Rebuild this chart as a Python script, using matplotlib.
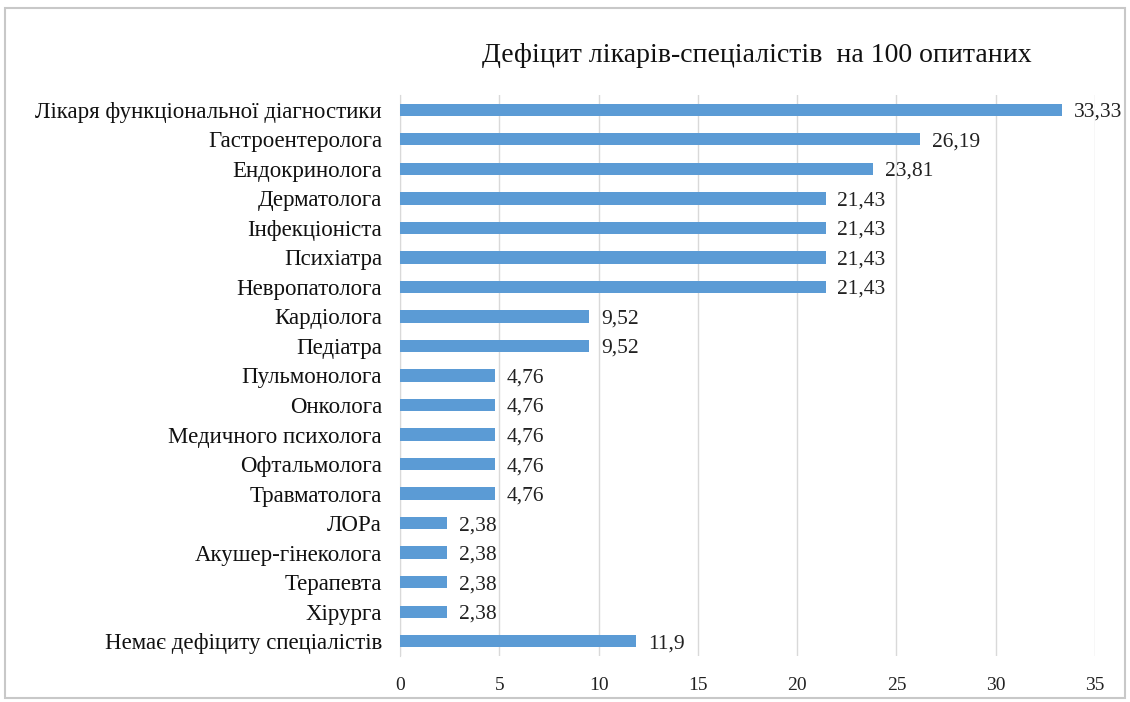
import matplotlib
matplotlib.use("Agg")
import matplotlib.pyplot as plt
from matplotlib.patches import Rectangle

categories = [
    "Лікаря функціональної діагностики",
    "Гастроентеролога",
    "Ендокринолога",
    "Дерматолога",
    "Інфекціоніста",
    "Психіатра",
    "Невропатолога",
    "Кардіолога",
    "Педіатра",
    "Пульмонолога",
    "Онколога",
    "Медичного психолога",
    "Офтальмолога",
    "Травматолога",
    "ЛОРа",
    "Акушер-гінеколога",
    "Терапевта",
    "Хірурга",
    "Немає дефіциту спеціалістів",
]
values = [33.33, 26.19, 23.81, 21.43, 21.43, 21.43, 21.43, 9.52, 9.52,
          4.76, 4.76, 4.76, 4.76, 4.76, 2.38, 2.38, 2.38, 2.38, 11.9]
value_labels = ["33,33", "26,19", "23,81", "21,43", "21,43", "21,43", "21,43",
                "9,52", "9,52", "4,76", "4,76", "4,76", "4,76", "4,76",
                "2,38", "2,38", "2,38", "2,38", "11,9"]
xticks = [0, 5, 10, 15, 20, 25, 30, 35]
title = "Дефіцит лікарів-спеціалістів  на 100 опитаних"

plt.rcParams['font.family'] = ['Liberation Serif', 'DejaVu Serif']

fig = plt.figure(figsize=(11.3, 7.02), dpi=100)
fig.patches.append(Rectangle((5/1130, 0.005), 1 - 10/1130, 1 - 12/702, transform=fig.transFigure,
                             fill=False, edgecolor="#c8c8c8", linewidth=1.5))

ax = fig.add_axes([400/1130, 1 - 656/702, 695/1130, 561/702])
n = len(categories)
ypos = list(range(n))[::-1]
ax.barh(ypos, values, height=0.42, color="#5B9BD5", zorder=3)
for y, v, lab in zip(ypos, values, value_labels):
    ax.text(v + 0.6, y, lab, va="center_baseline", ha="left", fontsize=15.5, color="#222222")

ax.set_xlim(0, 35)
ax.set_ylim(-0.5, n - 0.5)
ax.set_yticks(ypos)
ax.set_yticklabels(categories, fontsize=16.5, color="#111111", va="center_baseline")
ax.set_xticks(xticks)
ax.set_xticklabels([str(t) for t in xticks], fontsize=14, color="#222222")
ax.tick_params(axis="both", length=0)
ax.tick_params(axis="y", pad=13)
ax.tick_params(axis="x", pad=15)
ax.grid(axis="x", color="#d9d9d9", linewidth=1, zorder=0)
for s in ["top", "right", "bottom"]:
    ax.spines[s].set_visible(False)
ax.spines["left"].set_color("#d9d9d9")

fig.text(757/1130, 1 - 55/702, title, ha="center", va="center", fontsize=20, color="#111111")

fig.savefig("out.png", dpi=100)
